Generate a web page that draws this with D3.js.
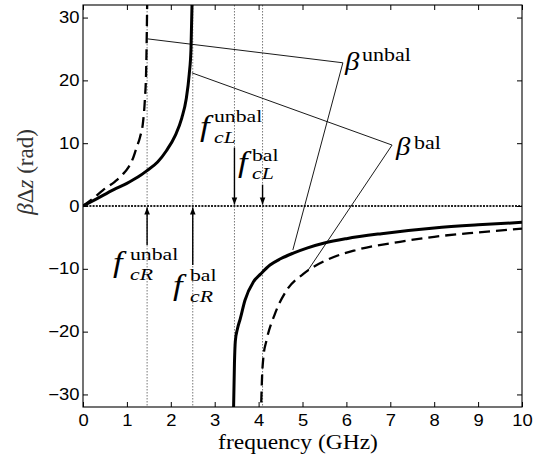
<!DOCTYPE html>
<html><head><meta charset="utf-8">
<script src="https://cdn.jsdelivr.net/npm/d3@7"></script>
<style>body{margin:0;background:#fff}</style></head>
<body><svg id="c" width="535" height="474"></svg>
<script>
// ---- data (frequency GHz, beta*dz rad) ----
const xTicks = [0,1,2,3,4,5,6,7,8,9,10];
const yTicks = [-30,-20,-10,0,10,20,30];
const rhBal = [[0,0],[0.3,1.1],[0.7,2.6],[1.0,3.6],[1.25,4.6],[1.45,5.6],[1.7,7.0],[1.9,8.8],[2.1,11.2],[2.25,14],[2.35,17],[2.42,21],[2.46,25],[2.49,34]];
const rhUnbal = [[0,0],[0.25,1.3],[0.45,2.5],[0.73,3.9],[0.9,5.0],[1.03,6.1],[1.15,7.8],[1.22,9.3],[1.3,11],[1.37,13.5],[1.41,17],[1.44,22],[1.465,34]];
const lhBal = [[3.425,-34],[3.45,-25],[3.47,-21.5],[3.52,-19.5],[3.58,-18],[3.69,-15],[3.88,-12.1],[4.05,-10.8],[4.26,-9.4],[4.5,-8.4],[4.79,-7.5],[5.1,-6.7],[5.5,-5.9],[6.0,-5.2],[6.8,-4.4],[8.0,-3.5],[9.0,-3.0],[10.0,-2.6]];
const lhUnbal = [[4.05,-34],[4.08,-27],[4.11,-24],[4.18,-21.4],[4.37,-17.2],[4.64,-13.4],[5.02,-10.8],[5.55,-8.6],[6.23,-7.0],[7.22,-5.7],[8.0,-4.9],[9.0,-4.2],[10.0,-3.6]];
const cutoffs = [1.46, 2.5, 3.45, 4.09];           // f_cR^unbal, f_cR^bal, f_cL^unbal, f_cL^bal
const arrowStart = [-6.2, -9.4, 9.3, 3.4];          // arrow tails (arrows point to 0)
const leaderUnbal = [[1.48,26.6],[5.92,22.8],[4.78,-7.0]];
const leaderBal = [[2.48,21.2],[7.04,9.7],[5.10,-10.5]];

const svg = d3.select('#c');
const L=83, R=522, T=5, B=407;
const x = d3.scaleLinear().domain([0,10]).range([L,R]);
const y = d3.scaleLinear().domain([-32,32]).range([B,T]);

svg.append('defs').call(d=>{
  d.append('clipPath').attr('id','clip').append('rect').attr('x',L).attr('y',T).attr('width',R-L).attr('height',B-T);
  d.append('marker').attr('id','ah').attr('viewBox','0 0 10 10').attr('refX',10).attr('refY',5)
   .attr('markerWidth',9).attr('markerHeight',7).attr('markerUnits','userSpaceOnUse')
   .attr('orient','auto').append('path').attr('d','M0,1 L10,5 L0,9 Z').attr('fill','#000');
});

const plot = svg.append('g').attr('clip-path','url(#clip)');

// vertical dotted lines
plot.selectAll('.vl').data(cutoffs).join('line')
  .attr('x1',d=>x(d)).attr('x2',d=>x(d)).attr('y1',y(32)).attr('y2',y(-32))
  .attr('stroke','#555').attr('stroke-width',0.8).attr('stroke-dasharray','1.5,1.5');
// zero line
plot.append('line').attr('x1',x(0)).attr('x2',x(10)).attr('y1',y(0)).attr('y2',y(0))
  .attr('stroke','#222').attr('stroke-width',1.8).attr('stroke-dasharray','2,1.2');

// leader lines
const lin = d3.line().x(d=>x(d[0])).y(d=>y(d[1]));
[leaderUnbal, leaderBal].forEach(p=>plot.append('path').attr('d',lin(p)).attr('fill','none').attr('stroke','#000').attr('stroke-width',0.9));

// curves
const cur = d3.line().x(d=>x(d[0])).y(d=>y(d[1])).curve(d3.curveMonotoneX);
[[rhBal,false],[lhBal,false],[rhUnbal,true],[lhUnbal,true]].forEach(([p,dash])=>{
  plot.append('path').attr('d',cur(p)).attr('fill','none').attr('stroke','#000')
    .attr('stroke-width',dash?2.3:3).attr('stroke-dasharray',dash?'11,6':null).attr('stroke-linecap','butt');
});

// arrows
cutoffs.forEach((c,i)=>{
  const dir = arrowStart[i] < 0 ? 1 : -1;
  plot.append('line').attr('x1',x(c)).attr('x2',x(c)).attr('y1',y(arrowStart[i])).attr('y2',y(0)+dir*1.5)
    .attr('stroke','#000').attr('stroke-width',1.4).attr('marker-end','url(#ah)');
});

// frame and ticks
const fs = 16;
const ax = (g,axis)=>g.call(axis).call(g=>{g.select('.domain').remove();g.selectAll('line').attr('stroke','#000');});
svg.append('g').attr('transform',`translate(0,${B})`).call(g=>ax(g,d3.axisBottom(x).tickValues(xTicks).tickSizeInner(-5).tickSizeOuter(0).tickPadding(8)))
  .call(g=>g.selectAll('text').attr('font-family','Liberation Sans, Arial, sans-serif').attr('font-size',fs).attr('fill','#000').attr('transform','scale(1.15,1)'));
svg.append('g').attr('transform',`translate(0,${T})`).call(g=>ax(g,d3.axisTop(x).tickValues(xTicks).tickSizeInner(-5).tickSizeOuter(0).tickFormat('')));
svg.append('g').attr('transform',`translate(${L},0)`).call(g=>ax(g,d3.axisLeft(y).tickValues(yTicks).tickSizeInner(-5).tickSizeOuter(0).tickPadding(3).tickFormat(d=>d<0?'\u2212'+Math.abs(d):d)))
  .call(g=>g.selectAll('text').attr('font-family','Liberation Sans, Arial, sans-serif').attr('font-size',fs).attr('fill','#000').attr('transform','scale(1.15,1)'));
svg.append('g').attr('transform',`translate(${R},0)`).call(g=>ax(g,d3.axisRight(y).tickValues(yTicks).tickSizeInner(-5).tickSizeOuter(0).tickFormat('')));
svg.append('rect').attr('x',L).attr('y',T).attr('width',R-L).attr('height',B-T).attr('fill','none').attr('stroke','#000').attr('stroke-width',1.1);

// math labels
const SERIF='Liberation Serif, Times New Roman, serif';
function mt(px,py,str,size,italic,sx){
  svg.append('text').attr('transform',`translate(${px},${py}) scale(${sx||1.15},1)`)
    .attr('font-family',SERIF).attr('font-size',size).attr('font-style',italic?'italic':'normal').attr('fill','#000').text(str);
}
function fl(fx,fy,sup,sub,sx,supY,subY){
  mt(fx,fy,'f',30,true); mt(sx,supY,sup,17,false,1.28); mt(sx,subY,sub,17,true,1.28);
}
fl(200,136,'unbal','cL',214,122,143);
fl(238,172,'bal','cL',252,161,179);
fl(113,272,'unbal','cR',130,260,280);
fl(173,295,'bal','cR',190,281,302);
mt(345,70,'\u03B2',25,true); mt(362,61,'unbal',18,false,1.22);
mt(396,155,'\u03B2',25,true); mt(414,149,'bal',18,false,1.22);

// axis titles
svg.append('text').attr('transform','translate(298,449) scale(1.12,1)').attr('text-anchor','middle')
  .attr('font-family',SERIF).attr('font-size',21).attr('fill','#000').text('frequency (GHz)');
const yl = svg.append('text').attr('transform','translate(33,172) rotate(-90)').attr('text-anchor','middle')
  .attr('font-family',SERIF).attr('font-size',23).attr('fill','#333');
yl.append('tspan').attr('font-style','italic').text('\u03B2');
yl.append('tspan').text('\u0394');
yl.append('tspan').attr('font-style','italic').text('z');
yl.append('tspan').text(' (rad)');
</script></body></html>
